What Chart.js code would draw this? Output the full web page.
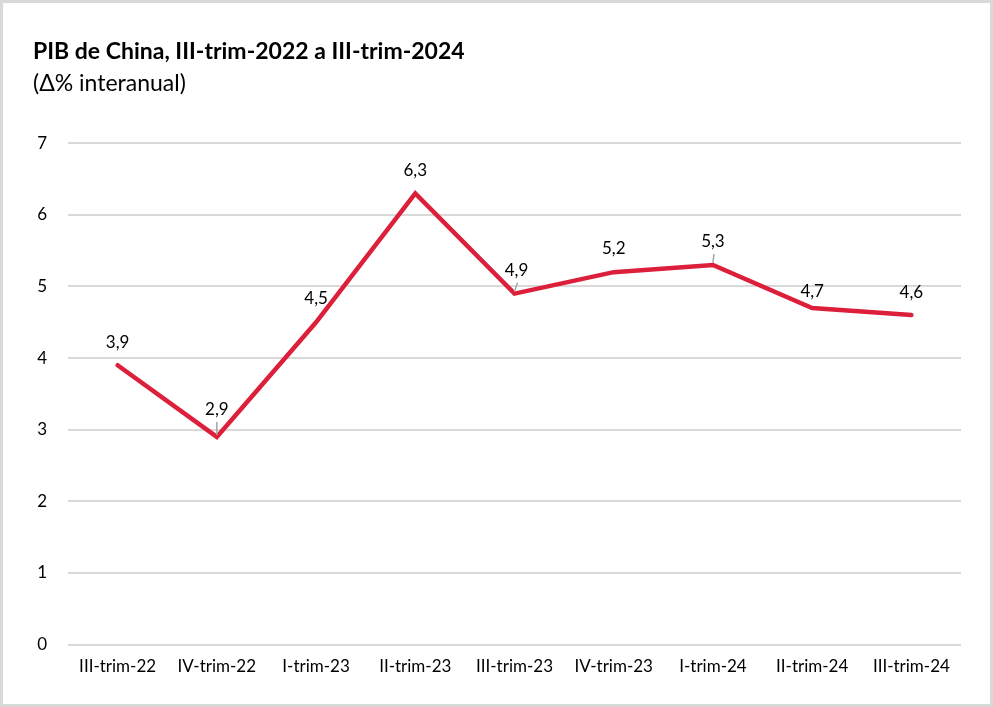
<!DOCTYPE html>
<html>
<head>
<meta charset="utf-8">
<script src="https://cdn.jsdelivr.net/npm/chart.js@4/dist/chart.umd.min.js"></script>
<style>
html,body{margin:0;padding:0;background:#fff;}
#wrap{width:993px;height:707px;position:relative;}
</style>
</head>
<body>
<div id="wrap"><canvas id="c" width="993" height="707"></canvas></div>
<script>
const categories = ["III-trim-22","IV-trim-22","I-trim-23","II-trim-23","III-trim-23","IV-trim-23","I-trim-24","II-trim-24","III-trim-24"];
const gdpGrowth = [3.9, 2.9, 4.5, 6.3, 4.9, 5.2, 5.3, 4.7, 4.6];
const yTicks = [0,1,2,3,4,5,6,7];
const titleText = "PIB de China, III-trim-2022 a III-trim-2024";
const subtitleText = "(Δ% interanual)";

const FONT = "Lato, 'Open Sans', sans-serif";

const frame = {
  id: 'frame',
  beforeDraw(chart) {
    const ctx = chart.ctx;
    ctx.save();
    ctx.fillStyle = '#fff';
    ctx.fillRect(0, 0, chart.width, chart.height);
    ctx.strokeStyle = '#d9d9d9';
    ctx.lineWidth = 3;
    ctx.strokeRect(1.5, 1.5, chart.width - 3, chart.height - 3);
    ctx.restore();
  }
};

const labels = {
  id: 'pointLabels',
  afterDatasetsDraw(chart, args, opts) {
    const ctx = chart.ctx;
    const meta = chart.getDatasetMeta(0);
    const ds = chart.data.datasets[0].data;
    ctx.save();
    ctx.font = "17px " + FONT;
    ctx.fillStyle = '#000';
    ctx.textAlign = 'center';
    ctx.textBaseline = 'middle';
    meta.data.forEach((pt, i) => {
      const off = (opts.offsets && opts.offsets[i]) || {dx: 0, dy: -23, leader: false};
      const lx = pt.x + off.dx, ly = pt.y + off.dy;
      if (off.leader) {
        ctx.strokeStyle = '#a6a6a6';
        ctx.lineWidth = 1.5;
        ctx.beginPath();
        ctx.moveTo(lx + (off.ldx || 0), ly + 12);
        ctx.lineTo(pt.x, pt.y - 2);
        ctx.stroke();
      }
      ctx.fillText(ds[i].toFixed(1).replace('.', ','), lx, ly);
    });
    ctx.restore();
  }
};

new Chart(document.getElementById('c'), {
  type: 'line',
  data: {
    labels: categories,
    datasets: [{
      data: gdpGrowth,
      borderColor: '#dc1f3a',
      borderWidth: 4.5,
      pointRadius: 0,
      tension: 0,
      fill: false,
      borderCapStyle: 'round',
      borderJoinStyle: 'miter'
    }]
  },
  options: {
    responsive: false,
    animation: false,
    devicePixelRatio: 1,
    layout: {padding: {top: 32, left: 33, right: 32, bottom: 18}},
    plugins: {
      legend: {display: false},
      tooltip: {enabled: false},
      title: {
        display: true, text: titleText, align: 'start', color: '#000',
        font: {family: FONT, size: 23, weight: 'bold'},
        padding: {top: 6, bottom: 4}
      },
      subtitle: {
        display: true, text: subtitleText, align: 'start', color: '#000',
        font: {family: FONT, size: 23, weight: 'normal'},
        padding: {top: 0, bottom: 46}
      },
      pointLabels: {
        offsets: [
          {dx: 0, dy: -23},
          {dx: 0, dy: -27, leader: true},
          {dx: 0, dy: -24},
          {dx: 0, dy: -23},
          {dx: 2, dy: -23, leader: true, ldx: 1},
          {dx: 0, dy: -24},
          {dx: 0, dy: -23, leader: true, ldx: 1},
          {dx: 0, dy: -16},
          {dx: 0, dy: -23}
        ]
      }
    },
    scales: {
      x: {
        offset: true,
        grid: {display: false, drawTicks: false},
        border: {display: false},
        ticks: {color: '#000', font: {family: FONT, size: 17}, padding: 12, maxRotation: 0, autoSkip: false}
      },
      y: {
        min: 0, max: 7,
        afterBuildTicks(axis) { axis.ticks = yTicks.map(v => ({value: v})); },
        afterFit(axis) { axis.width = 35; },
        grid: {color: '#d9d9d9', lineWidth: 2, drawTicks: false},
        border: {display: false},
        ticks: {color: '#000', font: {family: FONT, size: 17}, padding: 21}
      }
    }
  },
  plugins: [frame, labels]
});
</script>
</body>
</html>
